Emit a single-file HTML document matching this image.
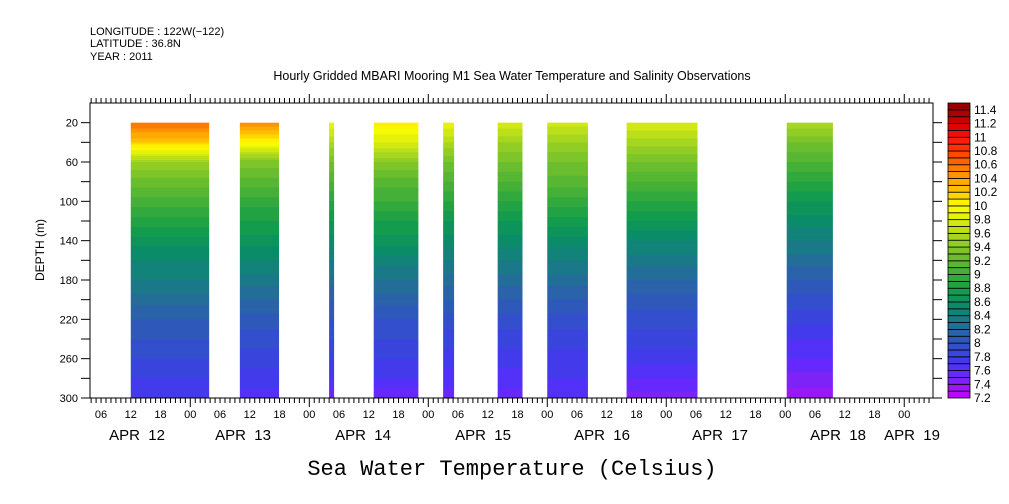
<!DOCTYPE html>
<html><head><meta charset="utf-8"><style>
html,body{margin:0;padding:0;background:#fff;}
svg{display:block;font-family:"Liberation Sans",sans-serif;}
</style></head><body>
<svg id="chart" width="1009" height="504" viewBox="0 0 1009 504" xmlns="http://www.w3.org/2000/svg">
<text x="90" y="35" font-size="11">LONGITUDE : 122W(−122)</text>
<text x="90" y="47" font-size="11">LATITUDE : 36.8N</text>
<text x="90" y="60" font-size="11">YEAR : 2011</text>
<text x="512" y="80" font-size="12.5" text-anchor="middle">Hourly Gridded MBARI Mooring M1 Sea Water Temperature and Salinity Observations</text>
<text x="44" y="250" font-size="12" text-anchor="middle" transform="rotate(-90 44 250)">DEPTH (m)</text>
<text x="512" y="475" font-size="22" font-family="Liberation Mono, monospace" text-anchor="middle">Sea Water Temperature (Celsius)</text>
<g id="cells"></g>
<g id="axes"></g>
<g id="cbar"></g>
</svg>
<script>
// Data
const depths = [20,40,60,80,100,120,140,160,180,200,220,240,260,280,300];
const blockStarts = [-12, 10, 28, 37, 51, 62, 72, 88, 120.3];
const blockEnds   = [3.8, 17.9, 29, 46, 53.2, 67, 80.2, 102.3, 129.6];
const blockProfiles = [
  [10.6,10.2,9.5,9.25,9.05,8.85,8.65,8.5,8.4,8.25,8.1,8.0,7.9,7.8,7.7],
  [10.5,10.0,9.35,9.15,8.95,8.8,8.65,8.5,8.35,8.2,8.05,7.95,7.85,7.75,7.65],
  [9.9,9.6,9.3,9.1,8.9,8.7,8.55,8.4,8.25,8.1,8.0,7.9,7.8,7.7,7.5],
  [10.05,9.8,9.4,9.15,9.0,8.8,8.65,8.45,8.3,8.15,8.0,7.9,7.8,7.7,7.5],
  [9.9,9.6,9.3,9.1,8.9,8.7,8.55,8.4,8.25,8.1,7.95,7.85,7.75,7.65,7.55],
  [9.8,9.5,9.3,9.1,8.9,8.7,8.55,8.4,8.25,8.1,7.95,7.85,7.75,7.65,7.55],
  [9.75,9.5,9.3,9.15,8.95,8.75,8.55,8.4,8.25,8.1,7.95,7.85,7.75,7.7,7.6],
  [9.8,9.55,9.3,9.1,8.9,8.7,8.5,8.35,8.2,8.05,7.95,7.85,7.75,7.6,7.45],
  [9.6,9.3,9.1,8.9,8.7,8.55,8.4,8.25,8.1,7.95,7.85,7.7,7.6,7.45,7.35]
];
const depthTicks = [20,60,100,140,180,220,260,300];
const hourTickLabels = ["06","12","18","00"];
const dayLabels = ["APR 12","APR 13","APR 14","APR 15","APR 16","APR 17","APR 18","APR 19"];
const dayLabelX = [137,243,363,483,602,720,838,912];
const cbarLabels = ["11.4","11.2","11","10.8","10.6","10.4","10.2","10","9.8","9.6","9.4","9.2","9","8.8","8.6","8.4","8.2","8","7.8","7.6","7.4","7.2"];

const NS="http://www.w3.org/2000/svg";
const L=90,R=933,T=103,B=398;
const x=h=>190.3+4.958*h;
const y=d=>T+(B-T)*d/300;
const anchors=[[7.2,"#c800ff"],[7.4,"#8a20f4"],[7.6,"#5a2cff"],[7.8,"#3c40e4"],[8.0,"#3054c4"],[8.2,"#2868a0"],[8.4,"#167e80"],[8.6,"#089060"],[8.8,"#18a048"],[9.0,"#3aac3a"],[9.2,"#60ba30"],[9.4,"#88c828"],[9.6,"#b0da1c"],[9.8,"#dcee0c"],[10.0,"#ffff00"],[10.2,"#ffc800"],[10.4,"#ffa000"],[10.6,"#ff7000"],[10.8,"#ff3c00"],[11.0,"#ff1010"],[11.2,"#d40000"],[11.4,"#a00000"],[11.6,"#800000"]];
function hex(c){return [1,3,5].map(i=>parseInt(c.substr(i,2),16));}
function color(t){
  if(t<=anchors[0][0])return anchors[0][1];
  for(let i=0;i<anchors.length-1;i++){const a=anchors[i],b=anchors[i+1];
    if(t<=b[0]){const f=(t-a[0])/(b[0]-a[0]);const ca=hex(a[1]),cb=hex(b[1]);
      return "rgb("+ca.map((v,k)=>Math.round(v+(cb[k]-v)*f)).join(",")+")";}}
  return anchors[anchors.length-1][1];
}
function mk(tag,attrs,parent){const e=document.createElementNS(NS,tag);for(const k in attrs)e.setAttribute(k,attrs[k]);parent.appendChild(e);return e;}
const cells=document.getElementById('cells');
blockStarts.forEach((s,bi)=>{
  const e=blockEnds[bi],p=blockProfiles[bi];
  for(let d=20;d<300;d+=2){
    let j=Math.min(Math.floor((d-20)/20),13);const f=(d+1-depths[j])/20;
    const t=p[j]+(p[j+1]-p[j])*f;
    const q=Math.floor(t*10+1e-6)/10+0.05;
    const r=mk('rect',{x:x(s),y:y(d),width:x(e)-x(s),height:y(d+2)-y(d)+0.5,fill:color(q)},cells);
    
    
  }
});
const ax=document.getElementById('axes');
const frame=mk('rect',{x:L,y:T,width:R-L,height:B-T,fill:"none",stroke:"#000","stroke-width":1},ax);


for(let h=-20;h<=149;h++){
  const xx=x(h); if(xx<L||xx>R)continue;
  const hod=((h%24)+24)%24;
  const big=hod===0;
  mk('line',{x1:xx,y1:B,x2:xx,y2:B+(big?9:5),stroke:"#000"},ax);
  mk('line',{x1:xx,y1:T,x2:xx,y2:T-(big?9:5),stroke:"#000"},ax);
  if(hod%6===0){
    const t=mk('text',{x:xx,y:B+20,"font-size":11,"text-anchor":"middle"},ax);
    t.textContent=hourTickLabels[(hod/6+3)%4];
    
    
  }
}
dayLabels.forEach((d,i)=>{
  const t=mk('text',{x:dayLabelX[i],y:B+42,"font-size":15,"text-anchor":"middle"},ax);
  t.textContent=d.replace(" ","\u00a0\u00a0");
  
  
});
for(let d=20;d<=300;d+=20){
  mk('line',{x1:L,y1:y(d),x2:L-9,y2:y(d),stroke:"#000"},ax);
  mk('line',{x1:R,y1:y(d),x2:R+9,y2:y(d),stroke:"#000"},ax);
}
depthTicks.forEach(d=>{
  const t=mk('text',{x:L-12,y:y(d)+4,"font-size":11,"text-anchor":"end"},ax);
  t.textContent=d;
  
  
});
const cb=document.getElementById('cbar');
const n=43,cx=948,cw=22,ch=(B-T)/n;
for(let i=0;i<n;i++){
  const t=7.2+i*0.1+0.05;
  const r=mk('rect',{x:cx,y:B-(i+1)*ch,width:cw,height:ch,fill:color(t),stroke:"#000","stroke-width":0.8},cb);
  
  
}
cbarLabels.forEach(l=>{
  const v=parseFloat(l);const i=Math.round((v-7.2)*10);
  const t=mk('text',{x:cx+cw+4,y:B-i*ch+4,"font-size":12},cb);
  t.textContent=l;
  
  
});
</script>
</body></html>
